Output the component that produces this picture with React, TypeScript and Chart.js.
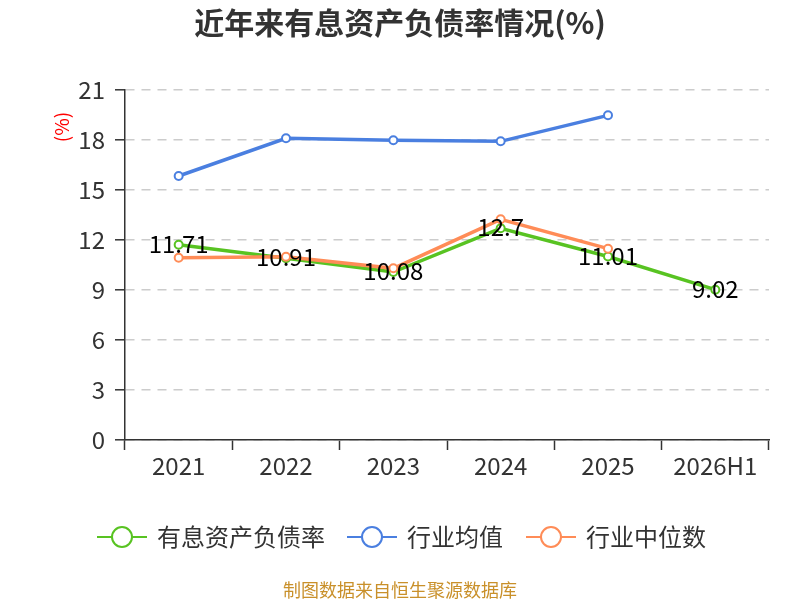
import { useEffect, useRef } from 'react';
import Chart from 'chart.js/auto';

const categories = ['2021', '2022', '2023', '2024', '2025', '2026H1'];
const debtRatio = [11.71, 10.91, 10.08, 12.7, 11.01, 9.02];
const industryAvg = [15.84, 18.1, 17.98, 17.92, 19.48, null];
const industryMedian = [10.94, 11.0, 10.3, 13.24, 11.48, null];
const seriesNames = ['有息资产负债率', '行业均值', '行业中位数'];
const seriesColors = ['#58c322', '#4a7fe0', '#ff8c57'];

const FONT = '"Noto Sans CJK SC", "Noto Sans", sans-serif';

// title, unit label, value labels, legend and source line
const overlayPlugin = {
  id: 'overlay',
  afterDatasetsDraw(chart: any) {
    const ctx = chart.ctx;
    const meta = chart.getDatasetMeta(0);
    ctx.save();
    ctx.font = `24px ${FONT}`;
    ctx.fillStyle = '#000';
    ctx.textAlign = 'center';
    ctx.textBaseline = 'middle';
    meta.data.forEach((pt: any, i: number) => {
      const v = debtRatio[i];
      if (v == null) return;
      ctx.fillText(String(v), pt.x, pt.y - 1);
    });
    ctx.restore();
  },
  afterDraw(chart: any) {
    const ctx = chart.ctx;
    ctx.save();
    // title
    ctx.font = `bold 30px ${FONT}`;
    ctx.fillStyle = '#333';
    ctx.textAlign = 'center';
    ctx.textBaseline = 'middle';
    ctx.fillText('近年来有息资产负债率情况(%)', 400, 23);

    // unit label
    ctx.save();
    ctx.translate(62, 127);
    ctx.rotate(-Math.PI / 2);
    ctx.font = `19px ${FONT}`;
    ctx.fillStyle = '#ff0000';
    ctx.fillText('(%)', 0, 0);
    ctx.restore();

    // legend
    const legendX = [97, 347, 526];
    const ly = 537;
    seriesNames.forEach((name, i) => {
      const x0 = legendX[i];
      ctx.strokeStyle = seriesColors[i];
      ctx.lineWidth = 2;
      ctx.beginPath();
      ctx.moveTo(x0, ly);
      ctx.lineTo(x0 + 50, ly);
      ctx.stroke();
      ctx.beginPath();
      ctx.arc(x0 + 25, ly, 10, 0, Math.PI * 2);
      ctx.fillStyle = '#fff';
      ctx.fill();
      ctx.stroke();
      ctx.font = `24px ${FONT}`;
      ctx.fillStyle = '#333';
      ctx.textAlign = 'left';
      ctx.fillText(name, x0 + 60, ly);
    });

    // source
    ctx.font = `18px ${FONT}`;
    ctx.fillStyle = '#c9902a';
    ctx.textAlign = 'center';
    ctx.fillText('制图数据来自恒生聚源数据库', 400, 590);
    ctx.restore();
  },
};

const makeLine = (label: string, data: (number | null)[], color: string, order: number) => ({
  label,
  data,
  borderColor: color,
  backgroundColor: '#fff',
  borderWidth: 3.5,
  pointRadius: 4,
  pointBorderWidth: 2,
  pointBackgroundColor: '#fff',
  pointBorderColor: color,
  tension: 0,
  order,
});

const App = () => {
  const chartRef = useRef<HTMLCanvasElement>(null);
  const chartInstance = useRef<Chart | null>(null);

  useEffect(() => {
    document.body.style.margin = '0';
    if (!chartRef.current) return;
    const ctx = chartRef.current.getContext('2d');
    if (!ctx) return;

    chartInstance.current = new Chart(ctx, {
      type: 'line',
      data: {
        labels: categories,
        datasets: [
          makeLine(seriesNames[0], debtRatio, seriesColors[0], 3),
          makeLine(seriesNames[1], industryAvg, seriesColors[1], 2),
          makeLine(seriesNames[2], industryMedian, seriesColors[2], 1),
        ],
      },
      options: {
        responsive: false,
        animation: false,
        layout: { padding: { top: 90, right: 31, left: 0, bottom: 0 } },
        plugins: {
          legend: { display: false },
          title: { display: false },
          tooltip: { enabled: false },
        },
        scales: {
          x: {
            offset: true,
            grid: {
              offset: true,
              drawOnChartArea: false,
              tickLength: 10,
              tickColor: '#333',
              tickWidth: 1.5,
            },
            border: { color: '#333', width: 1.5 },
            ticks: { color: '#333', font: { size: 24, family: FONT }, padding: 1 },
            afterFit: (scale: any) => {
              scale.height = 160;
            },
          },
          y: {
            min: 0,
            max: 21,
            ticks: { stepSize: 3, color: '#333', font: { size: 24, family: FONT }, padding: 10 },
            grid: { color: '#ccc', lineWidth: 1.6, tickLength: 10, tickColor: '#333', tickWidth: 1.5 },
            border: { color: '#333', width: 1.5, dash: [9, 7] },
            afterFit: (scale: any) => {
              scale.width = 125;
            },
          },
        },
      },
      plugins: [overlayPlugin],
    });

    return () => {
      if (chartInstance.current) {
        chartInstance.current.destroy();
        chartInstance.current = null;
      }
    };
  }, []);

  return (
    <div style={{ width: 800, height: 600 }}>
      <canvas ref={chartRef} width={800} height={600} />
    </div>
  );
};

export default App;
